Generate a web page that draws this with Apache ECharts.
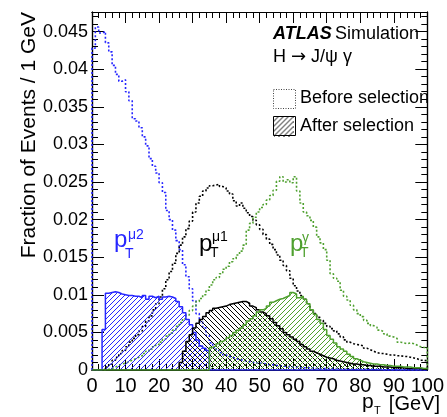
<!DOCTYPE html>
<html><head><meta charset="utf-8">
<script src="https://cdn.jsdelivr.net/npm/echarts@6/dist/echarts.min.js"></script>
<style>html,body{margin:0;padding:0;background:#fff}#c{width:447px;height:417px}</style>
</head><body><div id="c"></div>
<script>
const FONT = '"Liberation Sans", Arial, Helvetica, sans-serif';
// Histogram binning: 100 bins of 1 GeV starting at 0 GeV
const binStart = 0;
const binWidth = 1;
const xTicks = [0, 10, 20, 30, 40, 50, 60, 70, 80, 90, 100];
const yTicks = [0, 0.005, 0.01, 0.015, 0.02, 0.025, 0.03, 0.035, 0.04, 0.045];

// p_T(mu2), before selection (blue dotted)
const mu2Before = [
0.0428,0.0456,0.0448,0.0450,0.0435,0.0423,0.0405,0.0393,0.0384,0.0386,
0.0370,0.0358,0.0334,0.0331,0.0322,0.0310,0.0298,0.0281,0.0271,0.0262,
0.0249,0.0236,0.0212,0.0200,0.0186,0.0172,0.0160,0.0140,0.0124,0.0108,
0.0092,0.0075,0.0064,0.0056,0.0046,0.0036,0.0030,0.0026,0.0023,0.0020,
0.0018,0.0017,0.0015,0.0014,0.0013,0.0012,0.0011,0.0010,0.0010,0.0009,
0.0009,0.0008,0.0007,0.0007,0.0006,0.0006,0.0005,0.0005,0.0004,0.0004,
0.0004,0.0003,0.0003,0.0003,0.0003,0.0003,0.0002,0.0002,0.0002,0.0002,
0.0002,0.0002,0.0002,0.0001,0.0001,0.0001,0.0001,0.0001,0.0001,0.0001,
0.0001,0.0001,0.0001,0.0001,0.0001,0.0001,0,0,0,0,
0,0,0,0,0,0,0,0,0,0];
// p_T(mu1), before selection (black dotted)
const mu1Before = [
0,0,0,0.0001,0.0004,0.0008,0.0013,0.0017,0.0022,0.0026,
0.0031,0.0037,0.0042,0.0047,0.0052,0.0058,0.0065,0.0072,0.0080,0.0088,
0.0097,0.0108,0.0120,0.0131,0.0142,0.0155,0.0166,0.0177,0.0188,0.0198,
0.0210,0.0222,0.0231,0.0238,0.0242,0.0245,0.0246,0.0247,0.0244,0.0242,
0.0238,0.0234,0.0225,0.0218,0.0222,0.0215,0.0209,0.0204,0.0199,0.0193,
0.0187,0.0180,0.0174,0.0167,0.0160,0.0153,0.0146,0.0139,0.0132,0.0122,
0.0112,0.0105,0.0099,0.0094,0.0088,0.0080,0.0075,0.0070,0.0066,0.0062,
0.0058,0.0055,0.0052,0.0048,0.0044,0.0040,0.0037,0.0035,0.0034,0.0033,
0.0032,0.0029,0.0027,0.0025,0.0023,0.0022,0.0022,0.0021,0.0020,0.0020,
0.0019,0.0019,0.0018,0.0018,0.0017,0.0016,0.0015,0.0013,0.0013,0.0012];
// p_T(gamma), before selection (green dotted)
const gamBefore = [
0,0,0,0,0.0001,0.0002,0.0004,0.0006,0.0008,0.0009,
0.0011,0.0013,0.0015,0.0017,0.0019,0.0022,0.0025,0.0028,0.0031,0.0034,
0.0037,0.0041,0.0045,0.0049,0.0053,0.0058,0.0063,0.0068,0.0073,0.0079,
0.0085,0.0091,0.0095,0.0100,0.0106,0.0113,0.0120,0.0123,0.0128,0.0134,
0.0138,0.0144,0.0148,0.0153,0.0158,0.0166,0.0186,0.0195,0.0203,0.0210,
0.0216,0.0220,0.0226,0.0232,0.0239,0.0251,0.0257,0.0250,0.0253,0.0249,
0.0257,0.0238,0.0222,0.0210,0.0205,0.0199,0.0190,0.0177,0.0169,0.0160,
0.0146,0.0128,0.0122,0.0118,0.0106,0.0098,0.0093,0.0086,0.0080,0.0075,
0.0071,0.0066,0.0062,0.0059,0.0057,0.0053,0.0051,0.0048,0.0045,0.0044,
0.0042,0.0037,0.0036,0.0035,0.0036,0.0035,0.0033,0.0031,0.0030,0.0030];
// p_T(mu2), after selection (blue hatched)
const mu2After = [
0,0,0,0.0054,0.0102,0.0103,0.0104,0.0103,0.0101,0.0100,
0.0099,0.0099,0.0098,0.0098,0.0096,0.0099,0.0094,0.0098,0.0096,0.0098,
0.0094,0.0097,0.0098,0.0097,0.0095,0.0091,0.0084,0.0076,0.0067,0.0060,
0.0050,0.0040,0.0032,0.0029,0.0026,0,0,0,0,0,
0,0,0,0,0,0,0,0,0,0,0,0,0,0,0,0,0,0,0,0,
0,0,0,0,0,0,0,0,0,0,0,0,0,0,0,0,0,0,0,0,
0,0,0,0,0,0,0,0,0,0,0,0,0,0,0,0,0,0,0,0];
// p_T(mu1), after selection (black hatched)
const mu1After = [
0,0,0,0,0,0,0,0,0,0,0,0,0,0,0,0,0,0,0,0,
0,0,0,0,0,0,0.0010,0.0025,0.0038,0.0047,
0.0056,0.0062,0.0067,0.0071,0.0076,0.0079,0.0082,0.0083,0.0084,0.0085,
0.0087,0.0088,0.0089,0.0090,0.0091,0.0091,0.0089,0.0085,0.0083,0.0080,
0.0077,0.0075,0.0072,0.0068,0.0063,0.0059,0.0055,0.0050,0.0047,0.0044,
0.0041,0.0038,0.0034,0.0031,0.0028,0.0025,0.0023,0.0021,0.0019,0.0017,
0.0016,0.0015,0.0013,0.0012,0.0011,0.0010,0.0009,0.0008,0.0008,0.0007,
0.0007,0.0006,0.0006,0.0005,0.0005,0.0005,0.0004,0.0004,0.0004,0.0003,
0.0003,0.0003,0.0003,0.0002,0.0002,0.0002,0.0002,0.0002,0.0001,0.0001];
// p_T(gamma), after selection (green hatched)
const gamAfter = [
0,0,0,0,0,0,0,0,0,0,0,0,0,0,0,0,0,0,0,0,
0,0,0,0,0,0,0,0,0,0,0,0,0,0,0,0.0030,0.0032,0.0035,0.0038,0.0040,
0.0043,0.0046,0.0050,0.0053,0.0056,0.0060,0.0065,0.0068,0.0072,0.0077,
0.0080,0.0082,0.0085,0.0090,0.0092,0.0094,0.0095,0.0097,0.0099,0.0103,
0.0101,0.0096,0.0098,0.0094,0.0088,0.0080,0.0074,0.0067,0.0062,0.0054,
0.0046,0.0041,0.0036,0.0031,0.0028,0.0025,0.0021,0.0018,0.0015,0.0013,
0.0011,0.0010,0.0009,0.0008,0.0008,0.0007,0.0007,0.0006,0.0006,0.0005,
0.0005,0.0005,0.0004,0.0004,0.0004,0.0003,0.0003,0.0003,0.0002,0.0002];

const BLUE = '#2626ff', BLACK = '#000000', GREEN = '#4fa02f';
const Y_MAX = 0.0476;

function stepPoints(vals) {
  const pts = [[binStart, 0]];
  vals.forEach((v, i) => {
    const a = binStart + i * binWidth;
    pts.push([a, v], [a + binWidth, v]);
  });
  pts.push([binStart + vals.length * binWidth, 0]);
  return pts;
}
function hatchURL(color, dir) {
  const s = 5, k = 4, c = document.createElement('canvas');
  c.width = s * k; c.height = s * k;
  const g = c.getContext('2d');
  g.strokeStyle = color; g.lineWidth = 1;
  g.beginPath();
  for (let j = -k; j <= 2 * k; j++) {
    const o = j * s;
    if (dir > 0) { g.moveTo(o - s * k, s * k); g.lineTo(o + 1, -1); }
    else { g.moveTo(o - 1, -1); g.lineTo(o + s * k + 1, s * k + 1); }
  }
  g.stroke();
  return c.toDataURL('image/png');
}
const hatchImgs = {
  blue: hatchURL(BLUE, 1), black: hatchURL(BLACK, -1), green: hatchURL(GREEN, 1), legend: hatchURL(BLACK, 1)
};
function dotted(name, vals, color) {
  return { name, type: 'line', data: stepPoints(vals), showSymbol: false, symbol: 'none',
    lineStyle: { color, width: 1.6, type: [2, 2] }, silent: true, z: 2 };
}
function hatched(name, vals, color, img) {
  return { name, type: 'line', data: stepPoints(vals), showSymbol: false, symbol: 'none',
    lineStyle: { color, width: 1.5 }, areaStyle: { color: { image: img, repeat: 'repeat' }, opacity: 1 }, silent: true, z: 3 };
}
const tickStyle = { color: '#000', width: 1 };
function xAx(pos, interval, len, labels) {
  return { type: 'value', min: 0, max: 100, interval, position: pos,
    axisLine: { show: true, onZero: false, lineStyle: { color: '#000', width: 1.2 } },
    axisTick: { show: true, inside: true, length: len, lineStyle: tickStyle },
    splitLine: { show: false },
    axisLabel: labels ? { show: true, fontSize: 20, color: '#000', fontFamily: FONT, margin: 6,
      formatter: v => xTicks.includes(v) ? String(v) : '' } : { show: false } };
}
function yAx(pos, interval, len, labels) {
  return { type: 'value', min: 0, max: Y_MAX, interval, position: pos,
    axisLine: { show: true, onZero: false, lineStyle: { color: '#000', width: 1.2 } },
    axisTick: { show: true, inside: true, length: len, lineStyle: tickStyle },
    splitLine: { show: false },
    axisLabel: labels ? { show: true, fontSize: 18, color: '#000', fontFamily: FONT, margin: 4,
      formatter: v => { const t = yTicks.find(k => Math.abs(k - v) < 1e-9); return t === undefined ? '' : String(t); } } : { show: false } };
}

const chart = echarts.init(document.getElementById('c'), null, { renderer: 'canvas' });
chart.setOption({
  animation: false,
  backgroundColor: '#fff',
  grid: { left: 92, right: 11, top: 12, bottom: 47, containLabel: false },
  xAxis: [xAx('bottom', 10, 11, true), xAx('bottom', 2, 6, false), xAx('top', 10, 11, false), xAx('top', 2, 6, false)],
  yAxis: [yAx('left', 0.005, 12, true), yAx('left', 0.001, 6, false), yAx('right', 0.005, 12, false), yAx('right', 0.001, 6, false)],
  series: [
    dotted('mu2 before', mu2Before, BLUE),
    dotted('mu1 before', mu1Before, BLACK),
    dotted('gamma before', gamBefore, GREEN),
    hatched('mu2 after', mu2After, BLUE, hatchImgs.blue),
    hatched('mu1 after', mu1After, BLACK, hatchImgs.black),
    hatched('gamma after', gamAfter, GREEN, hatchImgs.green)
  ],
  graphic: [
    { type: 'text', x: 29, y: 12, rotation: Math.PI / 2,
      style: { text: 'Fraction of Events / 1 GeV', font: '21px ' + FONT, fill: '#000', textAlign: 'right', textVerticalAlign: 'middle' } },
    { type: 'text', x: 440, y: 404, style: { text: '[GeV]', font: '20px ' + FONT, fill: '#000', textAlign: 'right', textVerticalAlign: 'middle' } },
    { type: 'text', x: 362, y: 402, style: { text: 'p', font: '21px ' + FONT, fill: '#000', textAlign: 'left', textVerticalAlign: 'middle' } },
    { type: 'text', x: 374, y: 411, style: { text: 'T', font: '11px ' + FONT, fill: '#000', textAlign: 'left', textVerticalAlign: 'middle' } },
    { type: 'text', x: 273, y: 34, style: { rich: { a: { font: 'italic bold 18px ' + FONT, fill: '#000' }, b: { font: '18px ' + FONT, fill: '#000' } },
      text: '{a|ATLAS} {b|Simulation}', textVerticalAlign: 'middle' } },
    { type: 'text', x: 273, y: 57, style: { rich: { a: { font: '18px ' + FONT, fill: '#000' }, r: { font: '18px "DejaVu Sans", sans-serif', fill: '#000' } },
      text: '{a|H }{r|→}{a| J/ψ γ}', textVerticalAlign: 'middle' } },
    { type: 'rect', shape: { x: 273.5, y: 89.5, width: 22, height: 19 }, style: { fill: 'none', stroke: '#444', lineWidth: 1, lineDash: [1, 1.5] } },
    { type: 'text', x: 300, y: 98, style: { text: 'Before selection', font: '18px ' + FONT, fill: '#000', textVerticalAlign: 'middle' } },
    { type: 'image', style: { image: hatchImgs.legend, x: 273.5, y: 116.5, width: 20, height: 20 } },
    { type: 'rect', shape: { x: 273.5, y: 116.5, width: 22, height: 19 }, style: { fill: 'none', stroke: '#000', lineWidth: 1 } },
    { type: 'text', x: 300, y: 126, style: { text: 'After selection', font: '18px ' + FONT, fill: '#000', textVerticalAlign: 'middle' } },
    // p_T^{mu2}
    { type: 'text', x: 114, y: 240, style: { text: 'p', font: '24px ' + FONT, fill: BLUE, textVerticalAlign: 'middle' } },
    { type: 'text', x: 128, y: 235, style: { text: 'μ2', font: '14px ' + FONT, fill: BLUE, textVerticalAlign: 'middle' } },
    { type: 'text', x: 125, y: 254, style: { text: 'T', font: '14px ' + FONT, fill: BLUE, textVerticalAlign: 'middle' } },
    // p_T^{mu1}
    { type: 'text', x: 199, y: 244, style: { text: 'p', font: '24px ' + FONT, fill: BLACK, textVerticalAlign: 'middle' } },
    { type: 'text', x: 212, y: 237, style: { text: 'μ1', font: '14px ' + FONT, fill: BLACK, textVerticalAlign: 'middle' } },
    { type: 'text', x: 210, y: 253, style: { text: 'T', font: '14px ' + FONT, fill: BLACK, textVerticalAlign: 'middle' } },
    // p_T^{gamma}
    { type: 'text', x: 290, y: 244, style: { text: 'p', font: '24px ' + FONT, fill: GREEN, textVerticalAlign: 'middle' } },
    { type: 'text', x: 302, y: 238, style: { text: 'γ', font: '14px ' + FONT, fill: GREEN, textVerticalAlign: 'middle' } },
    { type: 'text', x: 300, y: 253, style: { text: 'T', font: '14px ' + FONT, fill: GREEN, textVerticalAlign: 'middle' } }
  ]
});
</script></body></html>
